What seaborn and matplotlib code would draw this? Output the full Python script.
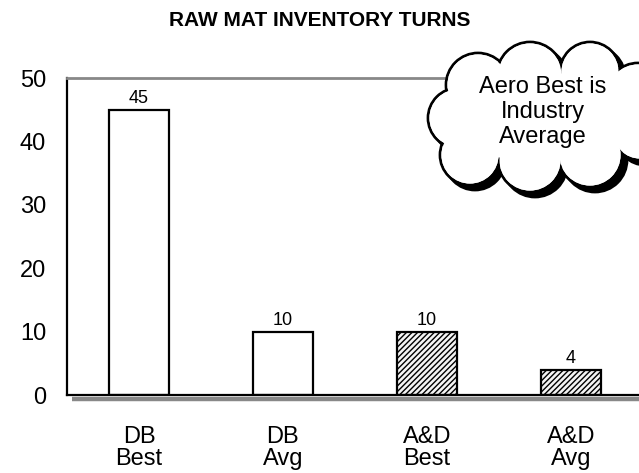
import matplotlib
matplotlib.use("Agg")
import matplotlib.pyplot as plt
from matplotlib.patches import Circle, Polygon
import seaborn as sns
import pandas as pd

# chart data
categories = ["DB\nBest", "DB\nAvg", "A&D\nBest", "A&D\nAvg"]
turns = [45, 10, 10, 4]
hatched = [False, False, True, True]
title = "RAW MAT INVENTORY TURNS"
note = "Aero Best is\nIndustry\nAverage"

sns.set_style("white")
plt.rcParams['font.family'] = ['Liberation Sans', 'DejaVu Sans']
plt.rcParams['text.color'] = 'black'
plt.rcParams['xtick.color'] = 'black'
plt.rcParams['ytick.color'] = 'black'
plt.rcParams['hatch.linewidth'] = 1.0
plt.rcParams['hatch.color'] = '#333333'

df = pd.DataFrame({"cat": categories, "turns": turns})

fig = plt.figure(figsize=(6.39, 4.73), dpi=100)
ax = fig.add_axes([0.1049, 0.1649, 0.901, 0.670])

sns.barplot(data=df, x="cat", y="turns", color="white", width=0.42,
            edgecolor="black", linewidth=1.6, ax=ax)
for bar, h in zip(ax.patches, hatched):
    if h:
        bar.set_hatch("//////")
        bar.set_facecolor("#f4f4f4")

ax.bar_label(ax.containers[0], labels=[str(v) for v in turns],
             fontsize=13, padding=2, color="black")

ax.set_xlim(-0.5, 3.5)
ax.set_ylim(0, 50)
ax.set_yticks([0, 10, 20, 30, 40, 50])
ax.set_xlabel("")
ax.set_ylabel("")
ax.tick_params(axis="y", length=0, pad=15, labelsize=17, labelcolor="black")
ax.tick_params(axis="x", length=0, pad=22, labelsize=17, labelcolor="black")
for lab in ax.get_xticklabels():
    lab.set_linespacing(1.05)

ax.spines["left"].set_color("black")
ax.spines["left"].set_linewidth(1.6)
ax.spines["bottom"].set_color("black")
ax.spines["bottom"].set_linewidth(1.6)
ax.spines["top"].set_color("#888888")
ax.spines["top"].set_linewidth(2)
ax.spines["right"].set_visible(False)

fig.text(0.5, 0.957, title, ha="center", va="center",
         fontsize=15, fontweight="bold", color="black")

# overlay in pixel coordinates for the floor shadow and the cloud callout
ov = fig.add_axes([0, 0, 1, 1], zorder=5)
ov.set_xlim(0, 639)
ov.set_ylim(473, 0)
ov.axis("off")
ov.patch.set_alpha(0)

ov.plot([72, 645], [398.5, 398.5], color="#888888", lw=3.2,
        solid_capstyle="butt")

# cloud lobes, listed in order around the outline
lobes = [(478, 85, 32), (530, 75, 33), (590, 72, 30), (638, 95, 32),
         (640, 132, 28), (590, 155, 32), (530, 160, 32), (470, 155, 30),
         (458, 118, 30)]
sh = 5
for cx, cy, r in lobes:
    ov.add_patch(Circle((cx + sh, cy + sh), r, facecolor="black",
                        edgecolor="black", lw=2, zorder=1))
ov.add_patch(Polygon([(cx + sh, cy + sh) for cx, cy, r in lobes],
                     closed=True, facecolor="black", edgecolor="none", zorder=1))
for cx, cy, r in lobes:
    ov.add_patch(Circle((cx, cy), r, facecolor="white",
                        edgecolor="black", lw=2, zorder=2))
for cx, cy, r in lobes:
    ov.add_patch(Circle((cx, cy), r - 1.5, facecolor="white",
                        edgecolor="none", zorder=3))
ov.add_patch(Polygon([(cx, cy) for cx, cy, r in lobes], closed=True,
                     facecolor="white", edgecolor="none", zorder=3))

ov.text(543, 112, note, ha="center", va="center", fontsize=17,
        linespacing=1.2, zorder=4, color="black")

fig.savefig("out.png", dpi=100)
